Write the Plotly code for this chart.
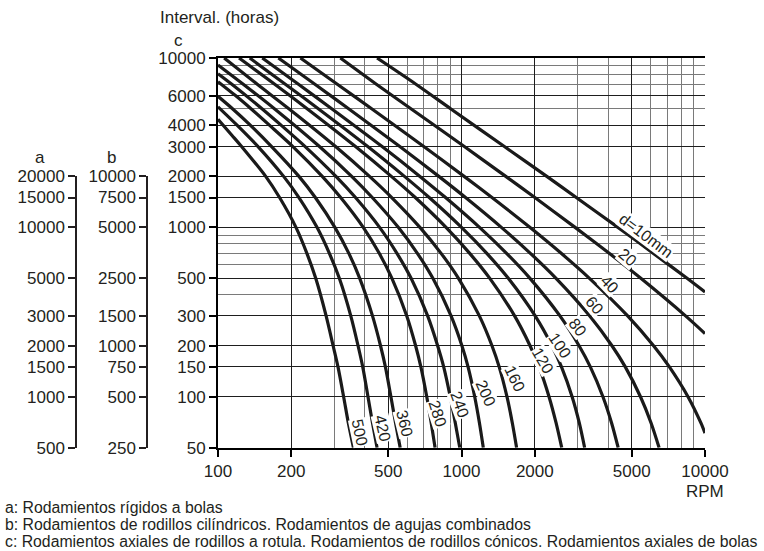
import math
import plotly.graph_objects as go

W, H = 764, 551

# ---------------- data ----------------
rpm_ticks = [100, 200, 500, 1000, 2000, 5000, 10000]
rpm_minor = [300, 400, 600, 700, 800, 900, 3000, 4000, 6000, 7000, 8000, 9000]
hours_c_ticks = [50, 100, 150, 200, 300, 500, 1000, 1500, 2000, 3000, 4000, 6000, 10000]
hours_c_minor = [400, 600, 700, 800, 900, 5000, 7000, 8000, 9000]
hours_a_ticks = [500, 1000, 1500, 2000, 3000, 5000, 10000, 15000, 20000]
hours_b_ticks = [250, 500, 750, 1000, 1500, 2500, 5000, 7500, 10000]

bore_labels = ["d=10mm", "20", "40", "60", "80", "100", "120", "160",
               "200", "240", "280", "360", "420", "500"]

rpm_d10 = [450, 650, 905, 1500, 2240, 2960, 4390, 6160, 8440, 10000]
hrs_d10 = [10000, 7000, 5000, 3000, 2000, 1500, 1000, 700, 500, 415]

rpm_d20 = [318, 447, 622, 1027, 1520, 2001, 2928, 4054, 5451, 8320, 10000]
hrs_d20 = [10000, 7000, 5000, 3000, 2000, 1500, 1000, 700, 500, 300, 236]

rpm_d40 = [218, 309, 429, 700, 1025, 1334, 1908, 2574, 3354, 4812, 6149, 7141, 8514, 9620, 10000]
hrs_d40 = [10000, 7000, 5000, 3000, 2000, 1500, 1000, 700, 500, 300, 200, 150, 100, 70, 61]

rpm_d60 = [177, 250, 345, 558, 807, 1039, 1458, 1923, 2445, 3363, 4149, 4705, 5433, 6005, 6480]
hrs_d60 = [10000, 7000, 5000, 3000, 2000, 1500, 1000, 700, 500, 300, 200, 150, 100, 70, 50]

rpm_d80 = [152, 214, 294, 472, 675, 860, 1186, 1535, 1911, 2537, 3040, 3381, 3809, 4134, 4400]
hrs_d80 = [10000, 7000, 5000, 3000, 2000, 1500, 1000, 700, 500, 300, 200, 150, 100, 70, 50]

rpm_d100 = [135, 189, 259, 412, 583, 737, 1000, 1273, 1557, 2007, 2351, 2574, 2846, 3046, 3204]
hrs_d100 = [10000, 7000, 5000, 3000, 2000, 1500, 1000, 700, 500, 300, 200, 150, 100, 70, 50]

rpm_d120 = [122, 171, 233, 367, 515, 646, 864, 1083, 1307, 1652, 1912, 2083, 2288, 2446, 2580]
hrs_d120 = [10000, 7000, 5000, 3000, 2000, 1500, 1000, 700, 500, 300, 200, 150, 100, 70, 50]

rpm_d160 = [106, 145, 196, 304, 419, 517, 675, 826, 972, 1184, 1334, 1428, 1537, 1617, 1684]
hrs_d160 = [10000, 7000, 5000, 3000, 2000, 1500, 1000, 700, 500, 300, 200, 150, 100, 70, 50]

rpm_d200 = [100, 127, 171, 261, 354, 430, 550, 660, 763, 906, 1004, 1064, 1133, 1185, 1229]
hrs_d200 = [9100, 7000, 5000, 3000, 2000, 1500, 1000, 700, 500, 300, 200, 150, 100, 70, 50]

rpm_d240 = [100, 114, 152, 182, 228, 305, 367, 461, 544, 621, 726, 798, 845, 899, 943, 984]
hrs_d240 = [8080, 7000, 5000, 4000, 3000, 2000, 1500, 1000, 700, 500, 300, 200, 150, 100, 70, 50]

rpm_d280 = [100, 118, 137, 163, 203, 268, 319, 395, 460, 518, 596, 648, 681, 720, 751, 779]
hrs_d280 = [7250, 6000, 5000, 4000, 3000, 2000, 1500, 1000, 700, 500, 300, 200, 150, 100, 70, 50]

rpm_d360 = [100, 115, 136, 166, 215, 251, 302, 345, 382, 431, 465, 487, 513, 536, 560]
hrs_d360 = [5940, 5000, 4000, 3000, 2000, 1500, 1000, 700, 500, 300, 200, 150, 100, 70, 50]

rpm_d420 = [100, 120, 146, 186, 215, 255, 287, 315, 351, 376, 393, 413, 431, 450]
hrs_d420 = [5150, 4000, 3000, 2000, 1500, 1000, 700, 500, 300, 200, 150, 100, 70, 50]

rpm_d500 = [100, 114, 125, 157, 179, 209, 232, 252, 278, 297, 311, 328, 343, 360]
hrs_d500 = [4350, 3500, 3000, 2000, 1500, 1000, 700, 500, 300, 200, 150, 100, 70, 50]

curves = [
    (rpm_d10, hrs_d10), (rpm_d20, hrs_d20), (rpm_d40, hrs_d40), (rpm_d60, hrs_d60),
    (rpm_d80, hrs_d80), (rpm_d100, hrs_d100), (rpm_d120, hrs_d120), (rpm_d160, hrs_d160),
    (rpm_d200, hrs_d200), (rpm_d240, hrs_d240), (rpm_d280, hrs_d280), (rpm_d360, hrs_d360),
    (rpm_d420, hrs_d420), (rpm_d500, hrs_d500),
]

footnotes = [
    "a: Rodamientos rígidos a bolas",
    "b: Rodamientos de rodillos cilíndricos. Rodamientos de agujas combinados",
    "c: Rodamientos axiales de rodillos a rotula. Rodamientos de rodillos cónicos. Rodamientos axiales de bolas",
]

# ---------------- layout helpers ----------------
FONT = "Liberation Sans, Arial, Helvetica, sans-serif"
TXT = "#231f20"
X0, X1, Y0, Y1 = 218, 705, 58, 447.7


def px(x):
    return x / W


def py(y):
    return 1 - y / H


c_lo, c_hi = 50, 10000
y_c2000 = Y0 + (Y1 - Y0) * (math.log10(c_hi) - math.log10(2000)) / (math.log10(c_hi) - math.log10(c_lo))

fig = go.Figure()
for rpm, hrs in curves:
    fig.add_trace(go.Scatter(
        x=rpm, y=hrs, mode="lines",
        line=dict(color="#1a1a1a", width=3.2, shape="spline", smoothing=0.8),
        hoverinfo="skip", showlegend=False))

# dummy traces so that the extra (a / b) axes are drawn
fig.add_trace(go.Scatter(x=[None], y=[None], xaxis="x2", yaxis="y2", showlegend=False))
fig.add_trace(go.Scatter(x=[None], y=[None], xaxis="x2", yaxis="y3", showlegend=False))

tickfont = dict(family=FONT, size=17, color=TXT)

fig.update_layout(
    width=W, height=H,
    margin=dict(l=0, r=0, t=0, b=0),
    paper_bgcolor="white", plot_bgcolor="white",
    showlegend=False,
    font=dict(family=FONT, size=16, color=TXT),
    xaxis=dict(
        type="log", range=[2, 4], domain=[px(X0), px(X1)], anchor="y",
        tickmode="array", tickvals=rpm_ticks, ticktext=[str(v) for v in rpm_ticks],
        ticks="outside", ticklen=7, tickwidth=1.5, tickcolor="black",
        tickfont=tickfont,
        showline=True, linewidth=2, linecolor="black", mirror=True,
        showgrid=True, gridcolor="#1e1e1e", gridwidth=1,
        minor=dict(tickvals=rpm_minor, showgrid=True, gridcolor="#7a7a7a", gridwidth=1, ticks=""),
        zeroline=False, automargin=False,
    ),
    yaxis=dict(
        type="log", range=[math.log10(c_lo), math.log10(c_hi)], domain=[py(Y1), py(Y0)], anchor="x",
        tickmode="array", tickvals=hours_c_ticks, ticktext=[str(v) for v in hours_c_ticks],
        ticks="outside", ticklen=7, tickwidth=1.5, tickcolor="black",
        tickfont=tickfont,
        showline=True, linewidth=2, linecolor="black",
        showgrid=True, gridcolor="#1e1e1e", gridwidth=1,
        minor=dict(tickvals=hours_c_minor, showgrid=True, gridcolor="#7a7a7a", gridwidth=1, ticks=""),
        zeroline=False, automargin=False,
    ),
    xaxis2=dict(domain=[0, 0.005], visible=False, anchor="y2"),
    yaxis2=dict(
        type="log", range=[math.log10(500), math.log10(20000)],
        domain=[py(Y1), py(y_c2000)], anchor="free", position=px(76), side="left",
        tickmode="array", tickvals=hours_a_ticks, ticktext=[str(v) for v in hours_a_ticks],
        ticks="outside", ticklen=7, tickwidth=1.5, tickcolor=TXT, tickfont=tickfont,
        showline=True, linewidth=1.5, linecolor=TXT, showgrid=False, zeroline=False,
        automargin=False,
    ),
    yaxis3=dict(
        type="log", range=[math.log10(250), math.log10(10000)],
        domain=[py(Y1), py(y_c2000)], anchor="free", position=px(147), side="left",
        tickmode="array", tickvals=hours_b_ticks, ticktext=[str(v) for v in hours_b_ticks],
        ticks="outside", ticklen=7, tickwidth=1.5, tickcolor=TXT, tickfont=tickfont,
        showline=True, linewidth=1.5, linecolor=TXT, showgrid=False, zeroline=False,
        automargin=False,
    ),
)

annotations = []


def add_text(text, x, y, xanchor="center", size=16.5, angle=0, bg=None):
    d = dict(text=text, x=px(x), y=py(y), xref="paper", yref="paper",
             xanchor=xanchor, yanchor="middle", showarrow=False, textangle=angle,
             font=dict(family=FONT, size=size, color=TXT))
    if bg:
        d.update(bgcolor=bg, borderpad=0)
    annotations.append(d)


add_text("Interval. (horas)", 158, 18, xanchor="left", size=17)
add_text("c", 178, 40, size=17)
add_text("a", 40, 158, size=17)
add_text("b", 112, 158, size=17)
add_text("RPM", 705, 491, size=17)
for i, t in enumerate(footnotes):
    add_text(t, 3, 507 + 17 * i, xanchor="left", size=15.8)

# curve labels (placement in pixels, angle in degrees)
label_pos = [
    (646, 235, 37), (628, 257, 40), (610, 284, 46), (595, 305, 50),
    (578, 327, 53), (560, 345, 56), (543, 360, 60), (515, 378, 64),
    (485, 393, 66), (460, 404, 70), (438, 413, 72), (405, 423, 76),
    (382, 428, 77), (360, 432, 78),
]
for text, (lx, ly, ang) in zip(bore_labels, label_pos):
    add_text(text, lx, ly, size=16, angle=ang, bg="white")

fig.update_layout(annotations=annotations)

fig.write_html(
    "out.html",
    config={"displayModeBar": False},
    post_script="document.body.style.margin='0';document.body.style.overflow='hidden';",
)
